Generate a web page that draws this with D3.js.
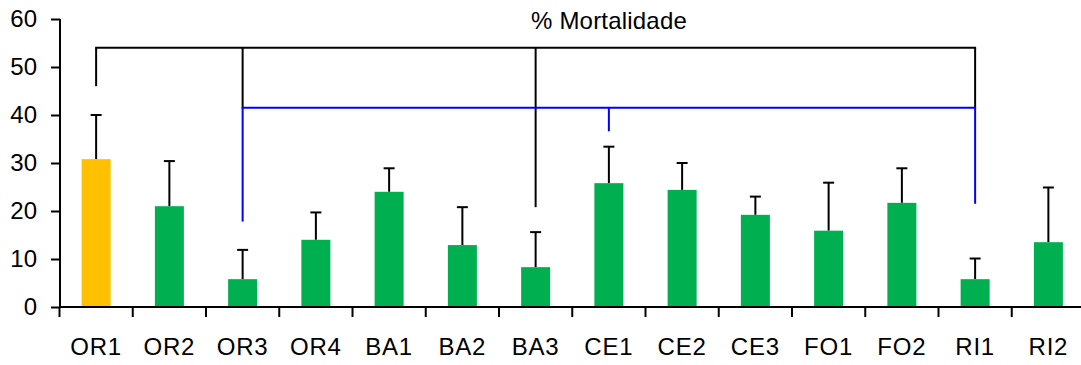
<!DOCTYPE html>
<html>
<head>
<meta charset="utf-8">
<script src="https://cdn.jsdelivr.net/npm/d3@7"></script>
<style>
  html, body { margin: 0; padding: 0; background: #fff; }
  svg { display: block; }
  text { font-family: "Liberation Sans", Arial, sans-serif; fill: #000; }
</style>
</head>
<body>
<svg id="chart" width="1081" height="365"></svg>
<script>
// Mortality (%) per site, with standard-deviation whiskers
const categories = ["OR1", "OR2", "OR3", "OR4", "BA1", "BA2", "BA3", "CE1", "CE2", "CE3", "FO1", "FO2", "RI1", "RI2"];
const mortality  = [30.8, 21.0, 5.8, 14.0, 24.0, 12.9, 8.3, 25.8, 24.4, 19.2, 15.9, 21.7, 5.8, 13.5];
const errorTop   = [40.0, 30.4, 11.9, 19.7, 28.9, 20.8, 15.6, 33.4, 30.0, 23.0, 25.9, 28.9, 10.1, 24.9];
const highlighted = ["OR1"];
const yTicks = [0, 10, 20, 30, 40, 50, 60];
const title = "% Mortalidade";

// Comparison brackets: horizontal level and the legs hanging from it
const blackLevel = 54;
const blackLegs = [["OR1", 46], ["OR3", 41.5], ["BA3", 20.8], ["RI1", 41.5]];
const blueLevel = 41.5;
const blueLegs = [["OR3", 17.8], ["CE1", 36.6], ["RI1", 21.5]];

const svg = d3.select("#chart");
const x = d3.scaleBand().domain(categories).range([59.5, 1085]).paddingInner(0).paddingOuter(0);
const y = d3.scaleLinear().domain([0, 60]).range([307, 19]);
const cx = c => x(c) + x.bandwidth() / 2;
const barW = 29;

const data = categories.map((c, i) => ({ c, v: mortality[i], e: errorTop[i] }));

// Error whiskers (drawn first so bars cover the base)
const eb = svg.append("g").attr("stroke", "#000").attr("stroke-width", 2);
eb.selectAll("line.v").data(data).join("line")
  .attr("x1", d => cx(d.c)).attr("x2", d => cx(d.c))
  .attr("y1", d => y(d.v)).attr("y2", d => y(d.e));
eb.selectAll("line.cap").data(data).join("line")
  .attr("x1", d => cx(d.c) - 5.5).attr("x2", d => cx(d.c) + 5.5)
  .attr("y1", d => y(d.e)).attr("y2", d => y(d.e));

// Bars
svg.append("g").selectAll("rect").data(data).join("rect")
  .attr("x", d => cx(d.c) - barW / 2)
  .attr("width", barW)
  .attr("y", d => y(d.v))
  .attr("height", d => y(0) - y(d.v))
  .attr("fill", d => highlighted.includes(d.c) ? "#FFC000" : "#00B050");

// Brackets
function bracket(level, legs, color) {
  const g = svg.append("g").attr("stroke", color).attr("stroke-width", 2).attr("fill", "none");
  const xs = legs.map(l => cx(l[0]));
  g.append("line")
    .attr("x1", d3.min(xs) - 1).attr("x2", d3.max(xs) + 1)
    .attr("y1", y(level)).attr("y2", y(level));
  g.selectAll("line.leg").data(legs).join("line")
    .attr("x1", d => cx(d[0])).attr("x2", d => cx(d[0]))
    .attr("y1", y(level)).attr("y2", d => y(d[1]));
}
bracket(blackLevel, blackLegs, "#000");
bracket(blueLevel, blueLegs, "#0000FF");

// Y axis
const yAxis = svg.append("g").attr("transform", "translate(60,0)")
  .call(d3.axisLeft(y).tickValues(yTicks).tickSize(9).tickPadding(14));
yAxis.select(".domain").attr("stroke", "#000").attr("stroke-width", 2).attr("d", "M0," + y(60) + "V" + y(0));
yAxis.selectAll(".tick line").attr("stroke", "#000").attr("stroke-width", 2);
yAxis.selectAll(".tick text")
  .style("font-size", "24px").style("font-family", "'Liberation Sans', Arial, sans-serif")
  .attr("fill", "#000");

// X axis: ticks at category boundaries
const xAxisG = svg.append("g");
xAxisG.append("line")
  .attr("x1", 59).attr("x2", 1081).attr("y1", y(0)).attr("y2", y(0))
  .attr("stroke", "#000").attr("stroke-width", 2);
xAxisG.selectAll("line.tk").data(categories).join("line")
  .attr("x1", c => x(c)).attr("x2", c => x(c))
  .attr("y1", y(0)).attr("y2", y(0) + 10)
  .attr("stroke", "#000").attr("stroke-width", 2);
xAxisG.selectAll("text").data(categories).join("text")
  .attr("x", c => cx(c)).attr("y", 355)
  .attr("text-anchor", "middle")
  .attr("letter-spacing", "0.8px")
  .style("font-size", "24px")
  .text(c => c);

// Title
svg.append("text")
  .attr("x", 609).attr("y", 28.5)
  .attr("text-anchor", "middle")
  .attr("letter-spacing", "0.2px")
  .style("font-size", "24px")
  .text(title);
</script>
</body>
</html>
